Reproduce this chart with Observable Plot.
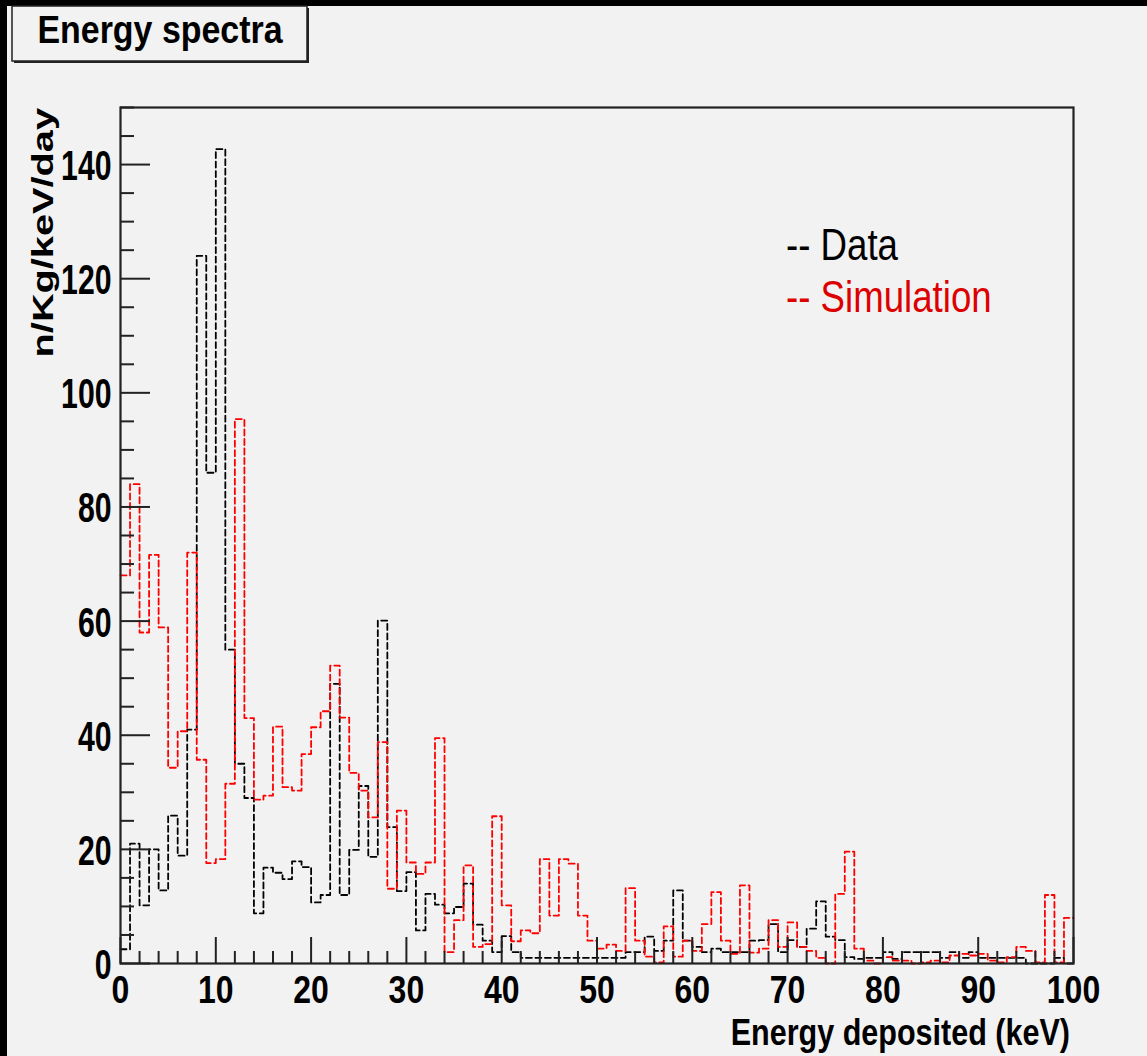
<!DOCTYPE html>
<html><head><meta charset="utf-8">
<script src="https://cdn.jsdelivr.net/npm/d3@7"></script>
<script src="https://cdn.jsdelivr.net/npm/@observablehq/plot@0.6"></script>
<style>
html,body{margin:0;padding:0;background:#f2f2f2;}
#chart{position:relative;width:1147px;height:1056px;overflow:hidden;}
#chart svg{position:absolute;left:0;top:0;}
</style></head><body><div id="chart"></div>
<script>
// Energy bins: 1 keV wide, 0..100 keV
const binEdges = d3.range(0, 101);
// Data histogram (n/Kg/keV/day), one value per 1 keV bin
const dataRate = [
  2.5, 21, 10.2, 20, 12.8, 25.9, 18.9, 41, 124, 86,
  142.7, 55, 35, 29, 8.8, 16.8, 15.9, 14.8, 17.9, 16.9,
  10.7, 12, 49, 12, 19.9, 31.1, 18.7, 60.1, 23.9, 12.7,
  16, 5.8, 12.2, 10.3, 8.8, 9.9, 14, 6.8, 4, 2,
  4.8, 2, 1, 1, 1, 1, 1, 1, 1, 1,
  1, 1, 1, 2, 2, 4.7, 2.2, 4, 12.8, 4,
  2.9, 2, 2.6, 2, 2, 2, 4, 4.1, 6.9, 2,
  4.1, 2.9, 6.1, 10.9, 4.7, 4.1, 1.1, 0.8, 1, 1,
  2, 0.8, 2, 2, 2, 2, 1, 2, 1, 2,
  1, 1, 1, 1, 1, 0, 0, 0, 1, 0
];
// Simulation histogram
const simRate = [
  68, 84, 58, 71.6, 58.9, 34.3, 40.7, 72, 35.7, 17.6,
  18.3, 31.5, 95.4, 43, 28.7, 29.4, 41.5, 30.9, 30.3, 36.7,
  41.4, 44.2, 52.2, 43.1, 33.4, 30.3, 25.6, 38.8, 13.1, 26.8,
  17.7, 15.7, 17.7, 39.5, 2, 7.6, 17.2, 2.9, 3.4, 25.8,
  10.2, 3.9, 5.8, 5.3, 18.3, 8.4, 18.3, 17.5, 8.4, 4,
  2.6, 3.3, 2.2, 13.2, 4, 1.2, 0.2, 6.5, 1.2, 4,
  2.2, 6.9, 12.5, 4, 1.7, 13.7, 1.9, 2.6, 7.6, 2.9,
  7.2, 2.9, 2.2, 1, 0, 12.2, 19.6, 2.6, 0.5, 0,
  1.1, 0.5, 0.5, 0, 0.2, 0.5, 0.2, 1.4, 1.7, 1.4,
  1.7, 0.5, 0.2, 1.1, 2.9, 2.2, 0.2, 12, 0.2, 8
];
const xTickLabels = [0, 10, 20, 30, 40, 50, 60, 70, 80, 90, 100];
const xMinorTicks = d3.range(0, 101, 2).filter(d => d % 10 !== 0);
const yTickLabels = [0, 20, 40, 60, 80, 100, 120, 140];
const yMinorTicks = d3.range(0, 151, 5).filter(d => d % 20 !== 0);
const seriesNames = ["Data", "Simulation"];
const seriesColors = ["#000000", "#ff0000"];

const W = 1147, H = 1056;
const mL = 120, mR = 74, mT = 107, mB = 93;
const plotW = W - mL - mR, plotH = H - mT - mB;
const font = "'Liberation Sans', Arial, Helvetica, sans-serif";
const tickColor = "#222";

function steps(vals) {
  return binEdges.map((e, i) => ({x: e, y: vals[Math.min(i, vals.length - 1)]}));
}

const svg = Plot.plot({
  width: W, height: H,
  marginLeft: mL, marginRight: mR, marginTop: mT, marginBottom: mB,
  style: {background: "#f2f2f2", fontFamily: font, overflow: "visible"},
  x: {domain: [0, 100], axis: null},
  y: {domain: [0, 150], axis: null},
  marks: [
    Plot.line(steps(dataRate), {x: "x", y: "y", curve: "step-after", stroke: seriesColors[0], strokeWidth: 1.8, strokeDasharray: "6,3.5"}),
    Plot.line(steps(simRate), {x: "x", y: "y", curve: "step-after", stroke: seriesColors[1], strokeWidth: 1.8, strokeDasharray: "6,3.5"}),
    Plot.ruleX(xMinorTicks, {x: d => d, insetTop: plotH - 12, stroke: tickColor, strokeWidth: 2}),
    Plot.ruleX(xTickLabels, {x: d => d, insetTop: plotH - 26, stroke: tickColor, strokeWidth: 2}),
    Plot.ruleY(yMinorTicks, {y: d => d, insetRight: plotW - 14, stroke: tickColor, strokeWidth: 2}),
    Plot.ruleY(yTickLabels, {y: d => d, insetRight: plotW - 30, stroke: tickColor, strokeWidth: 2}),
    Plot.frame({stroke: tickColor, strokeWidth: 2.2}),
    Plot.text(xTickLabels, {x: d => d, frameAnchor: "bottom", lineAnchor: "top", dy: 12, text: d => String(d), fontSize: 39, fontWeight: "bold", fill: "#000", ariaLabel: () => "xticklabel"}),
    Plot.text(yTickLabels, {y: d => d, frameAnchor: "left", textAnchor: "end", dx: -9, dy: 2, text: d => String(d), fontSize: 42, fontWeight: "bold", fill: "#000", ariaLabel: () => "yticklabel"})
  ]
});

function squeeze(nodes, sx) {
  nodes.forEach(t => {
    const x = parseFloat(t.getAttribute("x")) || 0;
    const tr = t.getAttribute("transform") || "";
    t.setAttribute("transform", `${tr} translate(${x},0) scale(${sx},1)`);
    if (t.hasAttribute("x")) t.setAttribute("x", 0);
  });
}
// Collect the tick-label groups (the only text marks Plot drew): first = x, second = y
const textGroups = Array.from(svg.querySelectorAll("g")).filter(g => g.querySelector(":scope > text"));
let xNodes = Array.from(svg.querySelectorAll('text[aria-label="xticklabel"]'));
let yNodes = Array.from(svg.querySelectorAll('text[aria-label="yticklabel"]'));
if (!xNodes.length && textGroups[0]) xNodes = Array.from(textGroups[0].querySelectorAll("text"));
if (!yNodes.length && textGroups[1]) yNodes = Array.from(textGroups[1].querySelectorAll("text"));
squeeze(xNodes, 0.82);
squeeze(yNodes, 0.72);

const s = d3.select(svg);
// outer dark border strips of the canvas
s.append("rect").attr("x", 0).attr("y", 0).attr("width", W).attr("height", 6).attr("fill", "#000");
s.append("rect").attr("x", 0).attr("y", 0).attr("width", 7).attr("height", H).attr("fill", "#000");

// title box
s.append("rect").attr("x", 14).attr("y", 8).attr("width", 295).attr("height", 55).attr("fill", "#222");
s.append("rect").attr("x", 12).attr("y", 6).attr("width", 295).attr("height", 55).attr("fill", "#f2f2f2").attr("stroke", "#222").attr("stroke-width", 1.5);
s.append("text").attr("transform", "translate(160,43) scale(0.87,1)").attr("text-anchor", "middle")
  .attr("font-family", font).attr("font-weight", "bold").attr("font-size", 39).attr("fill", "#000").text("Energy spectra");

// axis titles
s.append("text").attr("transform", "translate(1070,1045) scale(0.81,1)").attr("text-anchor", "end")
  .attr("font-family", font).attr("font-weight", "bold").attr("font-size", 37.7).attr("fill", "#000").text("Energy deposited (keV)");
s.append("text").attr("transform", "translate(53,108) rotate(-90) scale(1.37,1)").attr("text-anchor", "end")
  .attr("font-family", font).attr("font-weight", "bold").attr("font-size", 29).attr("fill", "#000").text("n/Kg/keV/day");

// legend
s.append("text").attr("transform", "translate(786,260) scale(0.82,1)").attr("text-anchor", "start")
  .attr("font-family", font).attr("font-size", 44.7).attr("fill", seriesColors[0]).text("-- " + seriesNames[0]);
s.append("text").attr("transform", "translate(786,312) scale(0.82,1)").attr("text-anchor", "start")
  .attr("font-family", font).attr("font-size", 44.7).attr("fill", "#dd0000").text("-- " + seriesNames[1]);

document.getElementById("chart").appendChild(svg);
</script>
</body></html>
